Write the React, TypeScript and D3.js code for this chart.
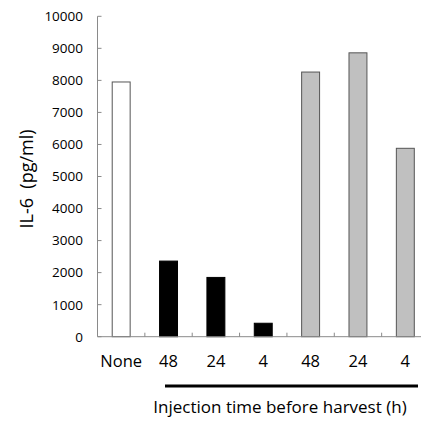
import { useEffect, useRef } from 'react'
import * as d3 from 'd3'

const categories = ['None', '48', '24', '4', '48 ', '24 ', '4 ']
const values = [7950, 2360, 1850, 420, 8260, 8860, 5880]
const groups = ['control', 'black', 'black', 'black', 'grey', 'grey', 'grey']
const yTicks = [0, 1000, 2000, 3000, 4000, 5000, 6000, 7000, 8000, 9000, 10000]

const fills: Record<string, string> = { control: '#ffffff', black: '#000000', grey: '#c0c0c0' }
const strokes: Record<string, string> = { control: '#555555', black: '#000000', grey: '#555555' }

const font = '"Open Sans", sans-serif'

export default function App() {
  const svgRef = useRef<SVGSVGElement>(null)

  useEffect(() => {
    if (!svgRef.current) return
    const svg = d3.select(svgRef.current)
    svg.selectAll('*').remove()

    const left = 97.5
    const top = 16.3
    const bottom = 336.7
    const right = 429

    const x = d3.scaleBand().domain(categories).range([left, right]).paddingInner(0.6).paddingOuter(0.3)
    const y = d3.scaleLinear().domain([0, 10000]).range([bottom, top])
    const band = (right - left) / categories.length

    // bars
    svg.append('g')
      .selectAll('rect')
      .data(values)
      .enter().append('rect')
      .attr('x', (d, i) => x(categories[i])! + 0.5)
      .attr('y', d => y(d))
      .attr('width', x.bandwidth() - 1)
      .attr('height', d => y(0) - y(d))
      .attr('fill', (d, i) => fills[groups[i]])
      .attr('stroke', (d, i) => strokes[groups[i]])
      .attr('stroke-width', 1)

    // y axis
    const yAxis = svg.append('g')
    yAxis.append('line')
      .attr('x1', left).attr('x2', left)
      .attr('y1', top).attr('y2', bottom)
      .attr('stroke', '#8a8a8a')
    yAxis.selectAll('.tick')
      .data(yTicks)
      .enter().append('line')
      .attr('x1', left).attr('x2', left + 4)
      .attr('y1', d => y(d)).attr('y2', d => y(d))
      .attr('stroke', '#8a8a8a')
    yAxis.selectAll('text')
      .data(yTicks)
      .enter().append('text')
      .attr('x', 83)
      .attr('y', d => y(d))
      .attr('dy', '0.36em')
      .attr('text-anchor', 'end')
      .style('font-family', font)
      .style('font-size', '13.5px')
      .attr('fill', '#000')
      .text(d => d)

    // x axis
    const xAxis = svg.append('g')
    xAxis.append('line')
      .attr('x1', left).attr('x2', right)
      .attr('y1', bottom).attr('y2', bottom)
      .attr('stroke', '#8a8a8a')
    xAxis.selectAll('.tick')
      .data(categories.slice(1))
      .enter().append('line')
      .attr('x1', (d, i) => left + band * (i + 1))
      .attr('x2', (d, i) => left + band * (i + 1))
      .attr('y1', bottom).attr('y2', bottom - 4)
      .attr('stroke', '#8a8a8a')
    xAxis.selectAll('text')
      .data(categories)
      .enter().append('text')
      .attr('x', d => x(d)! + x.bandwidth() / 2)
      .attr('y', 367)
      .attr('text-anchor', 'middle')
      .style('font-family', font)
      .style('font-size', '16.5px')
      .text(d => d.trim())

    // group bar under time labels
    svg.append('line')
      .attr('x1', 165).attr('x2', 418)
      .attr('y1', 386).attr('y2', 386)
      .attr('stroke', '#000')
      .attr('stroke-width', 3)

    svg.append('text')
      .attr('x', 280)
      .attr('y', 413)
      .attr('text-anchor', 'middle')
      .style('font-family', font)
      .style('font-size', '17px')
      .text('Injection time before harvest (h)')

    svg.append('text')
      .attr('transform', 'translate(33,179) rotate(-90)')
      .attr('text-anchor', 'middle')
      .style('font-family', font)
      .style('font-size', '18px')
      .style('white-space', 'pre')
      .text('IL-6  (pg/ml)')
  }, [])

  return (
    <svg
      ref={svgRef}
      width={421}
      height={421}
      style={{ position: 'absolute', left: 0, top: 0, background: '#fff' }}
    />
  )
}
